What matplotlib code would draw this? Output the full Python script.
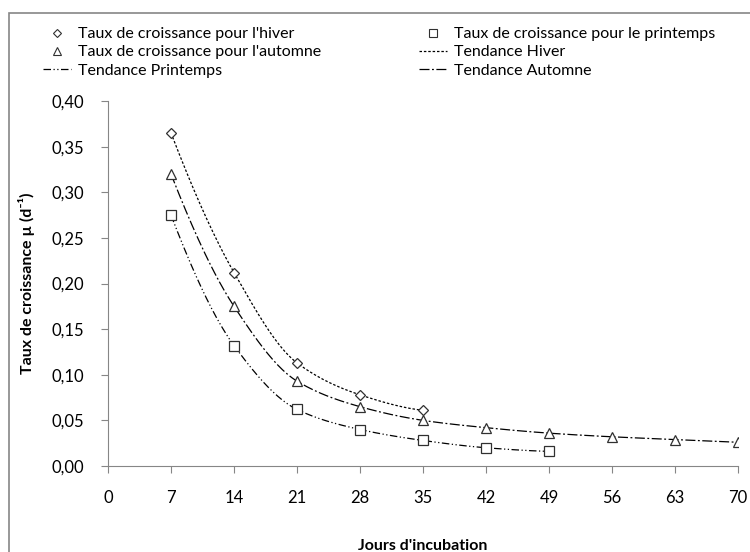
import numpy as np
import matplotlib.pyplot as plt
from matplotlib.lines import Line2D
from matplotlib.patches import Rectangle

plt.rcParams['font.family'] = ['Lato', 'DejaVu Sans']

# donnees
jours_hiver = [7, 14, 21, 28, 35]
taux_hiver = [0.365, 0.212, 0.113, 0.078, 0.061]
jours_print = [7, 14, 21, 28, 35, 42, 49]
taux_print = [0.275, 0.132, 0.062, 0.040, 0.028, 0.020, 0.016]
jours_aut = [7, 14, 21, 28, 35, 42, 49, 56, 63, 70]
taux_aut = [0.320, 0.175, 0.093, 0.065, 0.050, 0.042, 0.036, 0.032, 0.029, 0.026]
xticks = [0, 7, 14, 21, 28, 35, 42, 49, 56, 63, 70]
yticks = [0.0, 0.05, 0.10, 0.15, 0.20, 0.25, 0.30, 0.35, 0.40]

gris = '#868686'
fig = plt.figure(figsize=(7.5, 5.52), dpi=100)
ax = fig.add_axes([108/750, 1-466/552, 630/750, 365/552])

# cadre exterieur
fig.patches.append(Rectangle((9/750, -0.1), 1.2, 1-13/552+0.1, transform=fig.transFigure,
                             fill=False, ec=gris, lw=1.2))


def tendance(x, y):
    # courbe lissee monotone (hermite, pentes type pchip) entre les points
    x = np.asarray(x, float)
    y = np.asarray(y, float)
    h = np.diff(x)
    d = np.diff(y) / h
    m = np.zeros_like(y)
    for k in range(1, len(x)-1):
        if d[k-1]*d[k] > 0:
            w1 = 2*h[k] + h[k-1]
            w2 = h[k] + 2*h[k-1]
            m[k] = (w1 + w2) / (w1/d[k-1] + w2/d[k])
    m[0] = ((2*h[0] + h[1])*d[0] - h[0]*d[1]) / (h[0] + h[1]) if len(x) > 2 else d[0]
    if np.sign(m[0]) != np.sign(d[0]):
        m[0] = 0
    m[-1] = ((2*h[-1] + h[-2])*d[-1] - h[-1]*d[-2]) / (h[-1] + h[-2]) if len(x) > 2 else d[-1]
    if np.sign(m[-1]) != np.sign(d[-1]):
        m[-1] = 0
    xs, ys = [], []
    for k in range(len(x)-1):
        t = np.linspace(0, 1, 40)
        h00 = 2*t**3 - 3*t**2 + 1
        h10 = t**3 - 2*t**2 + t
        h01 = -2*t**3 + 3*t**2
        h11 = t**3 - t**2
        xs.append(x[k] + t*h[k])
        ys.append(h00*y[k] + h10*h[k]*m[k] + h01*y[k+1] + h11*h[k]*m[k+1])
    return np.concatenate(xs), np.concatenate(ys)


styles = {
    'hiver': (0, (2, 1.5)),
    'print': (0, (6, 2, 1, 2, 1, 2)),
    'aut': (0, (8, 2, 1.5, 2)),
}

xx, yy = tendance(jours_hiver, taux_hiver)
ax.plot(xx, yy, color='black', lw=0.9, ls=styles['hiver'])
xx, yy = tendance(jours_print, taux_print)
ax.plot(xx, yy, color='black', lw=0.9, ls=styles['print'])
xx, yy = tendance(jours_aut, taux_aut)
ax.plot(xx, yy, color='black', lw=0.9, ls=styles['aut'])

mk = dict(ls='none', mfc='white', mec='#303030', mew=0.9, zorder=3)
ax.plot(jours_hiver, taux_hiver, marker='D', ms=5.5, **mk)
ax.plot(jours_print, taux_print, marker='s', ms=7, **mk)
ax.plot(jours_aut, taux_aut, marker='^', ms=7.5, **mk)

ax.set_xlim(0, 70)
ax.set_ylim(0, 0.40)
ax.set_xticks(xticks)
ax.set_yticks(yticks)
ax.set_yticklabels([('%.2f' % v).replace('.', ',') for v in yticks])
for s in ['top', 'right']:
    ax.spines[s].set_visible(False)
for s in ['left', 'bottom']:
    ax.spines[s].set_color(gris)
ax.tick_params(colors=gris, labelcolor='black', labelsize=12, length=5, direction='out')
ax.tick_params(axis='x', pad=12)
ax.tick_params(axis='y', pad=12)

ax.set_xlabel("Jours d'incubation", fontsize=11.5, fontweight='bold', labelpad=24)
ax.set_ylabel("Taux de croissance µ (d⁻¹)", fontsize=11.5, fontweight='bold', labelpad=12)

# legende sur deux colonnes
def h_mk(m, ms):
    return Line2D([], [], ls='none', marker=m, ms=ms, mfc='white', mec='#303030', mew=0.8)


def h_ln(ls):
    return Line2D([], [], color='black', lw=0.9, ls=ls)


leg_kw = dict(frameon=False, fontsize=11.5, handlelength=1.75, handletextpad=0.45,
              labelspacing=0.25, borderpad=0, loc='upper left')
leg1 = fig.legend([h_mk('D', 4.5), h_mk('^', 6), h_ln(styles['print'])],
                  ["Taux de croissance pour l'hiver", "Taux de croissance pour l'automne",
                   "Tendance Printemps"],
                  bbox_to_anchor=(35/750, 1-19/552), **leg_kw)
leg2 = fig.legend([h_mk('s', 5.5), h_ln(styles['hiver']), h_ln(styles['aut'])],
                  ["Taux de croissance pour le printemps", "Tendance Hiver", "Tendance Automne"],
                  bbox_to_anchor=(411/750, 1-19/552), **leg_kw)

fig.savefig('out.png', dpi=100)
